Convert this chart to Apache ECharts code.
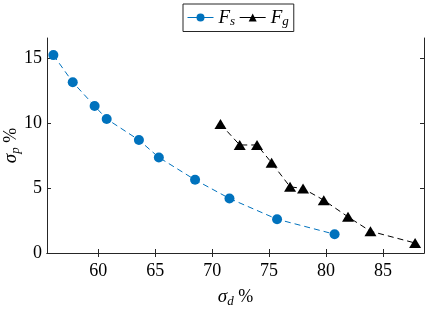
<!DOCTYPE html>
<html><head><meta charset="utf-8">
<script src="https://cdn.jsdelivr.net/npm/echarts@6/dist/echarts.min.js"></script>
<style>html,body{margin:0;padding:0;background:#fff}#c{width:436px;height:313px}</style>
</head><body><div id="c"></div>
<script>
const fsX = [56.06, 57.76, 59.68, 60.74, 63.57, 65.32, 68.5, 71.52, 75.7, 80.75];
const fsY = [15.28, 13.19, 11.35, 10.35, 8.72, 7.38, 5.65, 4.21, 2.61, 1.45];
const fgX = [70.73, 72.42, 73.94, 75.22, 76.84, 77.98, 79.8, 81.93, 83.9, 87.82];
const fgY = [9.96, 8.34, 8.34, 6.97, 5.11, 4.98, 4.08, 2.79, 1.68, 0.77];
const xTicks = [60, 65, 70, 75, 80, 85];
const yTicks = [0, 5, 10, 15];
const seriesNames = ['Fs', 'Fg'];

const FONT = 'Liberation Serif';
const AX = '#262626';
const chart = echarts.init(document.getElementById('c'), null, {renderer: 'canvas'});
const pair = (xs, ys) => xs.map((x, i) => [x, ys[i]]);
const baseAxis = {
  axisLine: {show: true, lineStyle: {color: AX, width: 1}},
  axisTick: {show: true, inside: true, length: 4, lineStyle: {color: AX}},
  splitLine: {show: false}
};
const xRange = {min: 55.5, max: 88.6};
const yRange = {min: 0, max: 16.6};
const nameRich = {
  a: {fontFamily: FONT, fontStyle: 'italic', fontSize: 19, color: '#000'},
  b: {fontFamily: FONT, fontStyle: 'italic', fontSize: 13, color: '#000', padding: [9, 0, 0, 0]},
  c: {fontFamily: FONT, fontSize: 18, color: '#000'}
};
chart.setOption({
  animation: false,
  grid: {left: 47, right: 12, top: 38, bottom: 60, outerBoundsMode: 'none', containLabel: false},
  legend: {
    top: 4, left: 183,
    itemWidth: 26, itemHeight: 10, itemGap: 4,
    padding: [4, 5, 3, 4],
    borderColor: AX, borderWidth: 1, borderRadius: 0,
    lineStyle: {type: 'solid', width: 1},
    formatter: n => '{i|F}{s|' + n.slice(1) + '}',
    textStyle: {
      color: '#000',
      rich: {
        i: {fontFamily: FONT, fontStyle: 'italic', fontSize: 19, color: '#000'},
        s: {fontFamily: FONT, fontStyle: 'italic', fontSize: 13, color: '#000', padding: [9, 0, 0, 0]}
      }
    },
    data: seriesNames
  },
  xAxis: [
    Object.assign({}, baseAxis, xRange, {
      type: 'value', position: 'bottom',
      name: '{a|σ}{b|d}{c| %}', nameLocation: 'middle', nameGap: 33, nameMoveOverlap: false,
      nameTextStyle: {rich: nameRich},
      axisTick: Object.assign({}, baseAxis.axisTick, {customValues: xTicks}),
      axisLabel: {customValues: xTicks, fontFamily: FONT, fontSize: 18, color: '#000', margin: 9}
    }),
    Object.assign({}, baseAxis, xRange, {
      type: 'value', position: 'top',
      axisTick: Object.assign({}, baseAxis.axisTick, {customValues: xTicks}),
      axisLabel: {show: false}
    })
  ],
  yAxis: [
    Object.assign({}, baseAxis, yRange, {
      type: 'value', position: 'left',
      name: '{a|σ}{b|p}{c| %}', nameLocation: 'middle', nameGap: 25, nameRotate: 90, nameMoveOverlap: false,
      nameTextStyle: {rich: nameRich},
      axisTick: Object.assign({}, baseAxis.axisTick, {customValues: yTicks}),
      axisLabel: {customValues: yTicks, fontFamily: FONT, fontSize: 18, color: '#000', margin: 5}
    }),
    Object.assign({}, baseAxis, yRange, {
      type: 'value', position: 'right',
      axisTick: Object.assign({}, baseAxis.axisTick, {customValues: yTicks}),
      axisLabel: {show: false}
    })
  ],
  series: [
    {
      name: seriesNames[0], type: 'line', data: pair(fsX, fsY),
      symbol: 'circle', symbolSize: 10,
      itemStyle: {color: '#0072BD'},
      lineStyle: {color: '#0072BD', width: 1, type: [6, 4]}
    },
    {
      name: seriesNames[1], type: 'line', data: pair(fgX, fgY),
      symbol: 'triangle', symbolSize: [12, 10],
      itemStyle: {color: '#000'},
      lineStyle: {color: '#000', width: 1, type: [6, 4]}
    }
  ]
});
</script></body></html>
